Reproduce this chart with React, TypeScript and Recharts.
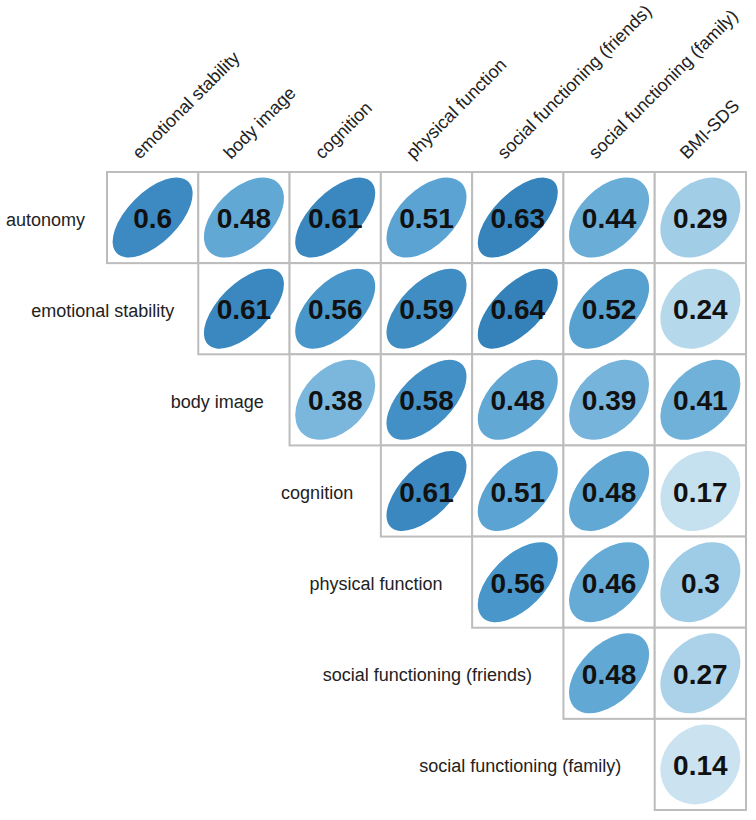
import { ScatterChart, Scatter, XAxis, YAxis } from "recharts";

const rowLabels = [
  "autonomy",
  "emotional stability",
  "body image",
  "cognition",
  "physical function",
  "social functioning (friends)",
  "social functioning (family)",
];

const colLabels = [
  "emotional stability",
  "body image",
  "cognition",
  "physical function",
  "social functioning (friends)",
  "social functioning (family)",
  "BMI-SDS",
];

// upper triangle, row i starts at column i
const autonomy = [0.6, 0.48, 0.61, 0.51, 0.63, 0.44, 0.29];
const emotionalStability = [0.61, 0.56, 0.59, 0.64, 0.52, 0.24];
const bodyImage = [0.38, 0.58, 0.48, 0.39, 0.41];
const cognition = [0.61, 0.51, 0.48, 0.17];
const physicalFunction = [0.56, 0.46, 0.3];
const socialFriends = [0.48, 0.27];
const socialFamily = [0.14];

const rows = [
  autonomy,
  emotionalStability,
  bodyImage,
  cognition,
  physicalFunction,
  socialFriends,
  socialFamily,
];

const W = 756;
const H = 820;
const M = { top: 171, right: 10, bottom: 10, left: 107 };
const N = 7;
const CW = (W - M.left - M.right) / N;
const CH = (H - M.top - 1 - M.bottom) / N;
const FONT = "'Liberation Sans', Arial, sans-serif";

const cells = rows.flatMap((vals, i) =>
  vals.map((r, k) => ({ x: i + k + 0.5, y: i + 0.5, r }))
);
const labelPts = rowLabels.map((label, i) => ({ x: i, y: i + 0.5, label }));

const stops: [number, number[]][] = [
  [0.1, [212, 232, 243]],
  [0.25, [180, 215, 234]],
  [0.4, [114, 178, 218]],
  [0.5, [94, 166, 211]],
  [0.56, [72, 150, 202]],
  [0.6, [60, 138, 193]],
  [0.66, [50, 126, 182]],
];

function colorFor(r: number) {
  if (r <= stops[0][0]) return `rgb(${stops[0][1].join(",")})`;
  for (let s = 1; s < stops.length; s++) {
    if (r <= stops[s][0]) {
      const [r0, c0] = stops[s - 1];
      const [r1, c1] = stops[s];
      const t = (r - r0) / (r1 - r0);
      const c = c0.map((v, idx) => Math.round(v + (c1[idx] - v) * t));
      return `rgb(${c.join(",")})`;
    }
  }
  return `rgb(${stops[stops.length - 1][1].join(",")})`;
}

const CellShape = (props: any) => {
  const { cx, cy, payload } = props;
  const r = payload.r;
  const k = 40;
  const rx = k * Math.sqrt(1 + r);
  const ry = k * Math.sqrt(1 - r);
  return (
    <g>
      <rect
        x={cx - CW / 2}
        y={cy - CH / 2}
        width={CW}
        height={CH}
        fill="#fff"
        stroke="#bdbdbd"
        strokeWidth={2}
      />
      <ellipse
        cx={cx}
        cy={cy}
        rx={rx}
        ry={ry}
        fill={colorFor(r)}
        transform={`rotate(-45 ${cx} ${cy})`}
      />
      <text
        x={cx}
        y={cy + 1}
        textAnchor="middle"
        dominantBaseline="central"
        fontFamily={FONT}
        fontWeight="bold"
        fontSize={28}
        fill="#111"
      >
        {r}
      </text>
    </g>
  );
};

const RowLabel = (props: any) => {
  const { cx, cy, payload, index } = props;
  const gap = 22 + 1.9 * (index ?? 0);
  return (
    <text
      x={cx - gap}
      y={cy + 2}
      textAnchor="end"
      dominantBaseline="central"
      fontFamily={FONT}
      fontSize={18}
      fill="#222"
    >
      {payload.label}
    </text>
  );
};

const ColTick = (props: any) => {
  const { x, payload } = props;
  const idx = Math.floor(payload.value);
  const tx = x - 13;
  const ty = M.top - 11;
  return (
    <text
      x={tx}
      y={ty}
      textAnchor="start"
      fontFamily={FONT}
      fontSize={18}
      fill="#222"
      transform={`rotate(-45 ${tx} ${ty})`}
    >
      {colLabels[idx]}
    </text>
  );
};

export default function App() {
  return (
    <div style={{ position: "absolute", left: 0, top: 0, background: "#fff" }}>
      <ScatterChart width={W} height={H} margin={M}>
        <XAxis
          type="number"
          dataKey="x"
          domain={[0, N]}
          orientation="top"
          height={1}
          ticks={[0.5, 1.5, 2.5, 3.5, 4.5, 5.5, 6.5]}
          interval={0}
          axisLine={false}
          tickLine={false}
          tick={<ColTick />}
        />
        <YAxis type="number" dataKey="y" domain={[0, N]} reversed hide />
        <Scatter
          data={cells}
          shape={<CellShape />}
          isAnimationActive={false}
        />
        <Scatter
          data={labelPts}
          shape={<RowLabel />}
          isAnimationActive={false}
        />
      </ScatterChart>
    </div>
  );
}
